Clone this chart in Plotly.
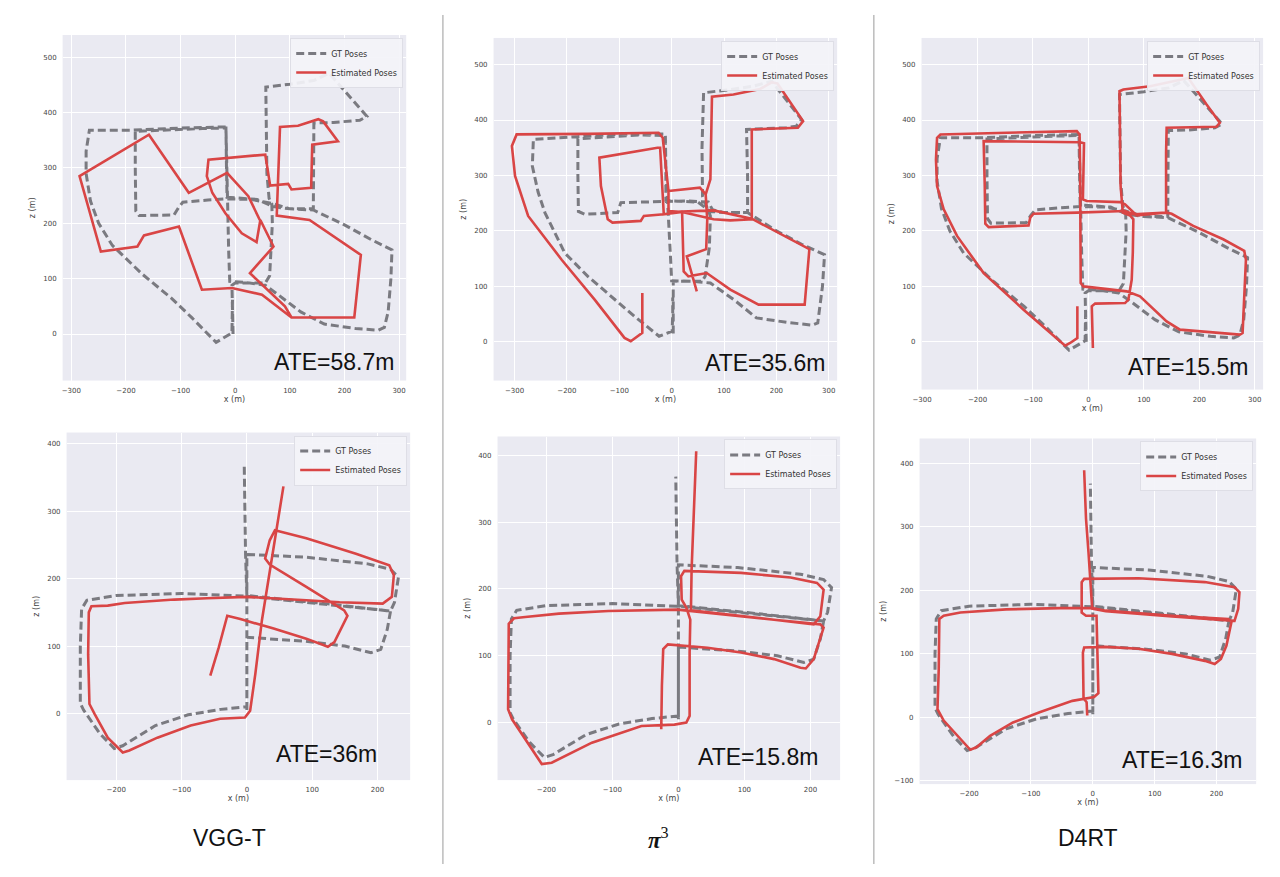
import plotly.graph_objects as go

W, H = 1280, 877

# ---------------- data (x, z) in metres ----------------
GT_TOP = [(-4, 0), (-5, 40), (-6, 88), (0, 92), (30, 92), (55, 92), (63, 105), (66, 150), (68, 200), (67, 235),
          (62, 245), (58, 290), (57, 380), (56, 446), (100, 451), (145, 458), (172, 471), (200, 440), (241, 393),
          (228, 386), (180, 382), (144, 381), (143, 300), (143, 226), (100, 226), (70, 230), (40, 243), (0, 245),
          (-15, 247), (-16, 300), (-17, 372), (-60, 371), (-120, 369), (-183, 366), (-183, 300), (-182, 222),
          (-176, 214), (-150, 214), (-112, 215), (-104, 228), (-96, 238), (-50, 242), (-15, 244), (30, 243),
          (67, 236), (100, 226), (143, 224), (200, 197), (250, 170), (287, 152), (285, 100), (280, 40), (273, 12),
          (262, 7), (220, 10), (163, 18), (120, 40), (80, 70), (55, 88), (20, 93), (-10, 95), (-12, 150),
          (-14, 245), (-16, 310), (-17, 374), (-100, 372), (-190, 368), (-267, 368), (-273, 330), (-273, 290),
          (-265, 240), (-250, 200), (-225, 160), (-170, 108), (-116, 64), (-80, 30), (-35, -15), (-6, 2),
          (-5, 30), (-5, 62)]

GT_TOP_PI3 = [(3, 15), (3, 60), (3, 109), (30, 109), (58, 109), (64, 118), (72, 170), (74, 227), (66, 245),
              (59, 262), (58, 350), (61, 449), (112, 455), (156, 461), (191, 470), (220, 435), (248, 401),
              (238, 389), (219, 386), (143, 383), (145, 300), (145, 233), (100, 233), (74, 235), (50, 252),
              (0, 254), (-11, 255), (-11, 300), (-12, 372), (-60, 373), (-120, 370), (-179, 366), (-179, 300),
              (-178, 235), (-166, 230), (-103, 233), (-97, 251), (-50, 252), (-11, 254), (30, 254), (70, 252),
              (78, 238), (100, 233), (145, 233), (200, 200), (250, 175), (292, 157), (288, 100), (279, 34),
              (268, 30), (220, 35), (162, 43), (120, 75), (74, 106), (40, 109), (0, 110), (-2, 150), (-8, 254),
              (-11, 310), (-12, 375), (-100, 374), (-180, 370), (-264, 365), (-266, 317), (-255, 270),
              (-242, 233), (-204, 160), (-160, 118), (-116, 82), (-70, 45), (-24, 10), (1, 19), (2, 50), (2, 80)]

VGGT_TOP = [(45, 206), (24, 249), (-15, 291), (-85, 255), (-158, 360), (-285, 285), (-246, 149), (-179, 158),
            (-167, 178), (-103, 194), (-61, 80), (-6, 83), (49, 71), (103, 30), (218, 30), (230, 143), (136, 206),
            (76, 214), (82, 374), (115, 376), (152, 388), (161, 384), (188, 348), (141, 342), (139, 264),
            (103, 261), (97, 271), (64, 268), (55, 324), (-49, 315), (-52, 285), (-42, 255), (-18, 218),
            (12, 182), (39, 166), (46, 206), (70, 158), (27, 110), (91, 50), (103, 30)]

PI3_TOP = [(48, 91), (29, 154), (66, 167), (68, 220), (65, 266), (54, 278), (-6, 272), (54, 278), (65, 266),
           (74, 293), (77, 442), (118, 446), (169, 456), (191, 468), (202, 466), (251, 398), (241, 386),
           (153, 383), (153, 221), (112, 219), (80, 221), (20, 234), (-15, 230), (-22, 350), (-27, 350),
           (-138, 332), (-135, 281), (-122, 221), (-113, 215), (-59, 218), (-53, 227), (-15, 230), (20, 235),
           (80, 237), (153, 222), (263, 167), (254, 67), (166, 67), (112, 94), (67, 124), (32, 118), (23, 127),
           (20, 234), (-6, 236), (-6, 257), (-6, 272), (-17, 368), (-25, 377), (-160, 375), (-296, 374),
           (-305, 353), (-299, 299), (-274, 227), (-210, 148), (-147, 76), (-90, 7), (-78, 1), (-56, 16),
           (-56, 88)]

D4RT_TOP = [(8, -11), (7, 22), (6, 64), (12, 69), (66, 70), (72, 76), (78, 112), (80, 161), (81, 221), (75, 228),
            (62, 233), (58, 281), (57, 401), (56, 452), (63, 455), (111, 461), (153, 470), (180, 476), (213, 428),
            (237, 395), (231, 388), (141, 386), (140, 341), (140, 233), (87, 228), (66, 248), (57, 252), (-3, 254),
            (-10, 257), (-9, 311), (-8, 358), (-15, 360), (-189, 362), (-187, 281), (-186, 213), (-180, 207),
            (-108, 210), (-105, 224), (-99, 231), (-21, 233), (66, 236), (81, 230), (141, 233), (150, 231),
            (189, 209), (243, 185), (281, 164), (284, 148), (281, 70), (278, 16), (273, 13), (165, 22), (141, 37),
            (93, 82), (69, 91), (-9, 100), (-14, 106), (-14, 221), (-15, 311), (-16, 374), (-21, 380), (-147, 377),
            (-267, 374), (-273, 368), (-275, 329), (-273, 281), (-261, 239), (-237, 191), (-189, 124), (-117, 58),
            (-42, -7), (-33, -2), (-20, 7), (-20, 64)]

GT_BOT = [(0, 5), (0, 60), (0, 113), (90, 107), (150, 100), (190, 90), (205, 95), (215, 125), (220, 152),
          (120, 162), (0, 174), (-100, 178), (-200, 175), (-245, 168), (-253, 155), (-255, 100), (-255, 15),
          (-250, 5), (-225, -30), (-203, -52), (-190, -48), (-140, -18), (-90, -2), (-40, 6), (0, 10), (0, 60),
          (0, 113), (0, 174), (0, 236), (90, 232), (185, 222), (220, 214), (232, 202), (226, 165), (220, 152),
          (120, 163), (0, 175), (-2, 236), (-3, 300), (-4, 368)]

VGGT_BOT = [(-56, 56), (-43, 98), (-30, 145), (-10, 140), (41, 126), (91, 111), (124, 99), (134, 106), (154, 145),
            (149, 153), (91, 188), (35, 221), (28, 230), (35, 257), (43, 272), (91, 260), (167, 237), (218, 220),
            (225, 205), (222, 173), (208, 163), (142, 165), (91, 168), (0, 173), (-61, 171), (-111, 169),
            (-187, 164), (-213, 160), (-238, 159), (-242, 150), (-243, 88), (-241, 14), (-233, -1), (-213, -36),
            (-190, -58), (-180, -55), (-137, -36), (-86, -18), (-41, -8), (-3, -6), (5, 4), (13, 59), (23, 138),
            (33, 198), (41, 247), (56, 337)]

PI3_BOT = [(-26, -10), (-25, 55), (-23, 110), (-16, 117), (44, 112), (95, 105), (145, 95), (185, 82), (193, 81),
           (205, 95), (220, 142), (215, 147), (145, 154), (70, 162), (19, 167), (-1, 169), (-106, 167),
           (-181, 163), (-232, 158), (-249, 156), (-257, 148), (-258, 20), (-252, 5), (-222, -40), (-207, -62),
           (-192, -60), (-131, -30), (-56, -5), (-6, -3), (12, 0), (17, 10), (17, 105), (18, 154), (12, 172),
           (5, 184), (4, 219), (9, 227), (95, 224), (170, 217), (210, 209), (220, 199), (215, 159), (205, 147),
           (145, 154), (70, 163), (19, 168), (20, 229), (22, 279), (24, 354), (27, 406)]

D4RT_BOT = [(-9, 3), (-10, 24), (-15, 30), (-16, 102), (-14, 110), (21, 111), (74, 108), (128, 100), (181, 89),
            (197, 84), (207, 92), (216, 113), (224, 150), (219, 155), (128, 160), (21, 168), (-1, 172), (-54, 172),
            (-140, 170), (-214, 165), (-241, 160), (-248, 155), (-249, 76), (-251, 13), (-241, -5), (-214, -34),
            (-198, -51), (-188, -47), (-166, -29), (-129, -8), (-86, 8), (-33, 26), (2, 32), (9, 38), (8, 102),
            (6, 160), (-11, 160), (-18, 165), (-18, 213), (-14, 218), (74, 219), (181, 213), (229, 205),
            (237, 197), (235, 171), (229, 152), (128, 159), (21, 167), (-1, 171), (-3, 208), (-7, 260),
            (-11, 313), (-14, 389)]

METHODS = ["VGG-T", "<b><i>π</i></b><sup>3</sup>", "D4RT"]
ATE_TOP = ["58.7", "35.6", "15.5"]
ATE_BOT = ["36", "15.8", "16.3"]

TOP_XTICKS = [-300, -200, -100, 0, 100, 200, 300]
TOP_YTICKS = [0, 100, 200, 300, 400, 500]
BOT_XTICKS = [-200, -100, 0, 100, 200]
BOT_YTICKS = [0, 100, 200, 300, 400]
BOT_YTICKS_D4RT = [-100, 0, 100, 200, 300, 400]

# ---------------- layout helpers ----------------
PANELS = [
    dict(box=(54, 35, 400, 381), xr=(-316, 313), yr=(-84, 540), xt=TOP_XTICKS, yt=TOP_YTICKS,
         gt=GT_TOP, est=VGGT_TOP, ate=ATE_TOP[0], ate_pos=(390, 362)),
    dict(box=(488, 38, 834, 381), xr=(-340, 316), yr=(-70, 548), xt=TOP_XTICKS, yt=TOP_YTICKS,
         gt=GT_TOP_PI3, est=PI3_TOP, ate=ATE_TOP[1], ate_pos=(824, 363)),
    dict(box=(919, 38, 1263, 390), xr=(-301, 315), yr=(-86, 548), xt=TOP_XTICKS, yt=TOP_YTICKS,
         gt=GT_TOP, est=D4RT_TOP, ate=ATE_TOP[2], ate_pos=(1250, 367)),
    dict(box=(58, 433, 404, 781), xr=(-276, 250), yr=(-99, 417), xt=BOT_XTICKS, yt=BOT_YTICKS,
         gt=GT_BOT, est=VGGT_BOT, ate=ATE_BOT[0], ate_pos=(373, 755)),
    dict(box=(492, 437, 837, 781), xr=(-274, 245), yr=(-86, 428), xt=BOT_XTICKS, yt=BOT_YTICKS,
         gt=GT_BOT, est=PI3_BOT, ate=ATE_BOT[1], ate_pos=(817, 758)),
    dict(box=(917, 439, 1256, 785), xr=(-280, 264), yr=(-105, 439), xt=BOT_XTICKS, yt=BOT_YTICKS_D4RT,
         gt=GT_BOT, est=D4RT_BOT, ate=ATE_BOT[2], ate_pos=(1244, 761)),
]

GT_COLOR = "rgba(112,112,118,0.92)"
EST_COLOR = "#d94545"
BG = "#EAEAF2"
TICK_FONT = dict(family="DejaVu Sans", size=7, color="#444")


def lab(v):
    return str(v).replace("-", "\u2212")


fig = go.Figure()
layout = dict(
    width=W, height=H, margin=dict(l=0, r=0, t=0, b=0),
    paper_bgcolor="white", plot_bgcolor=BG,
    font=dict(family="DejaVu Sans", color="#333"),
    showlegend=True, annotations=[], shapes=[],
)

for i, p in enumerate(PANELS, start=1):
    sfx = "" if i == 1 else str(i)
    x0, y0, x1, y1 = p["box"]
    leg = "legend" if i == 1 else f"legend{i}"
    gx = [q[0] for q in p["gt"]]
    gz = [q[1] for q in p["gt"]]
    ex = [q[0] for q in p["est"]]
    ez = [q[1] for q in p["est"]]
    fig.add_trace(go.Scatter(x=gx, y=gz, mode="lines", name="GT Poses", legend=leg,
                             xaxis="x" + sfx, yaxis="y" + sfx, hoverinfo="skip",
                             line=dict(color=GT_COLOR, width=3, dash="8px,4px")))
    fig.add_trace(go.Scatter(x=ex, y=ez, mode="lines", name="Estimated Poses", legend=leg,
                             xaxis="x" + sfx, yaxis="y" + sfx, hoverinfo="skip",
                             line=dict(color=EST_COLOR, width=2.6)))
    layout["xaxis" + sfx] = dict(
        domain=[x0 / W, x1 / W], range=list(p["xr"]), anchor="y" + sfx,
        tickvals=p["xt"], ticktext=[lab(v) for v in p["xt"]], tickfont=TICK_FONT,
        showgrid=True, gridcolor="white", gridwidth=1, zeroline=False, showline=False,
        ticks="", ticklabelstandoff=4, fixedrange=True,
        title=dict(text="x (m)", font=dict(family="DejaVu Sans", size=8, color="#444"), standoff=2),
    )
    layout["yaxis" + sfx] = dict(
        domain=[1 - y1 / H, 1 - y0 / H], range=list(p["yr"]), anchor="x" + sfx,
        tickvals=p["yt"], ticktext=[lab(v) for v in p["yt"]], tickfont=TICK_FONT,
        showgrid=True, gridcolor="white", gridwidth=1, zeroline=False, showline=False,
        ticks="", ticklabelstandoff=5, fixedrange=True,
        title=dict(text="z (m)", font=dict(family="DejaVu Sans", size=8, color="#444"), standoff=6),
    )
    layout[leg] = dict(
        x=(x1 - 3) / W, y=1 - (y0 + 3) / H, xanchor="right", yanchor="top",
        bgcolor="rgba(243,243,248,0.92)", bordercolor="#dedee6", borderwidth=1,
        font=dict(family="DejaVu Sans", size=8, color="#333"), tracegroupgap=0,
        itemwidth=30,
    )
    ax, ay = p["ate_pos"]
    layout["annotations"].append(dict(
        xref="paper", yref="paper", x=ax / W, y=1 - ay / H, xanchor="right", yanchor="middle",
        text=f"ATE={p['ate']}m", showarrow=False,
        font=dict(family="Liberation Sans, Arial", size=23, color="#111")))

# column labels
for name, cx in zip(METHODS, [222, 654, 1087]):
    fam = "Liberation Serif, DejaVu Serif" if "π" in name else "Liberation Sans, Arial"
    layout["annotations"].append(dict(
        xref="paper", yref="paper", x=cx / W, y=1 - 839 / H, xanchor="center", yanchor="middle",
        text=name, showarrow=False, font=dict(family=fam, size=23, color="#111")))

# separators
for sx in [437, 871]:
    layout["shapes"].append(dict(type="line", xref="paper", yref="paper", x0=sx / W, x1=sx / W,
                                 y0=1 - 15 / H, y1=1 - 865 / H, line=dict(color="#9a9a9a", width=1)))

fig.update_layout(**layout)
fig.write_html("out.html", config={"displayModeBar": False})
